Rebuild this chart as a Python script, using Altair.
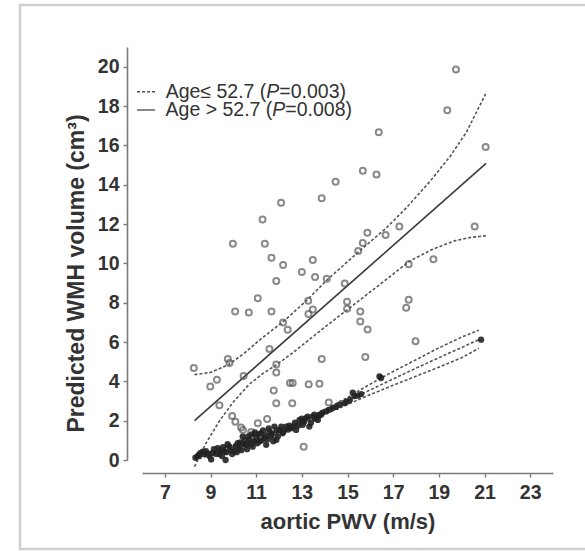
import altair as alt
import pandas as pd

# ---------------- data ----------------
# Age > 52.7 group (open circles)
old_x = [8.27, 8.99, 9.28, 9.39, 9.76, 9.83, 9.98, 10.08, 9.95, 10.09, 10.34, 10.45,
         10.68, 11.07, 11.07, 11.28, 11.38, 11.48, 11.58, 11.67, 11.67, 11.77, 11.88,
         11.88, 11.88, 11.88, 12.09, 12.18, 12.18, 12.38, 12.48, 12.60, 12.58, 13.00,
         13.08, 13.28, 13.29, 13.48, 13.48, 13.58, 13.30, 13.77, 13.87, 13.87, 14.09,
         14.18, 14.48, 14.88, 14.98, 14.98, 15.47, 15.56, 15.56, 15.67, 15.67, 15.78,
         15.87, 15.88, 16.27, 16.37, 16.67, 17.27, 17.57, 17.68, 17.68, 17.98, 18.76,
         19.37, 19.75, 20.57, 21.05, 10.42, 10.78]
old_y = [4.68, 3.74, 4.08, 2.79, 5.14, 4.93, 11.00, 7.55, 2.24, 1.95, 1.65, 4.27,
         7.50, 8.23, 1.87, 12.23, 11.00, 2.09, 5.65, 10.29, 7.55, 3.54, 9.10,
         4.85, 4.45, 2.89, 13.08, 9.91, 6.99, 6.62, 3.91, 3.91, 2.89, 9.56,
         0.68, 8.10, 7.43, 7.65, 10.17, 9.30, 3.85, 3.88, 5.14, 13.31, 9.22,
         2.93, 14.15, 8.98, 8.05, 7.69, 10.63, 7.55, 7.04, 14.71, 11.03, 5.24,
         11.55, 6.63, 14.52, 16.67, 11.44, 11.87, 7.74, 8.15, 9.95, 6.04, 10.21,
         17.79, 19.86, 11.87, 15.91, 1.53, 1.43]

# Age <= 52.7 group (filled circles)
young_x = [8.34, 8.49, 8.66, 8.88, 9.03, 9.32, 9.39, 9.66, 9.61, 9.83, 10.05, 10.19,
           10.27, 10.41, 10.56, 10.71, 10.85, 11.00, 11.14, 11.22, 11.36, 11.44, 11.58,
           11.66, 11.80, 11.88, 12.02, 12.16, 12.31, 12.53, 12.75, 12.90, 13.04, 13.19,
           13.33, 13.48, 13.70, 13.84, 14.06, 14.35, 14.65, 14.86, 15.23, 15.45, 16.47,
           16.40, 20.85,
           8.45, 8.55, 8.70, 8.80, 8.95, 9.10, 9.15, 9.25, 9.45, 9.50, 9.55, 9.70,
           9.75, 9.90, 9.95, 10.10, 10.15, 10.30, 10.35, 10.45, 10.50, 10.60, 10.65,
           10.75, 10.80, 10.90, 10.95, 11.05, 11.10, 11.25, 11.30, 11.40, 11.50, 11.55,
           11.70, 11.75, 11.90, 11.95, 12.10, 12.20, 12.40, 12.45, 12.60, 12.70, 12.85,
           13.00, 13.10, 13.25, 13.40, 13.55, 13.60, 13.75, 13.90, 14.20, 14.50, 14.95,
           15.10, 15.30, 15.60]
young_y = [0.12, 0.26, 0.43, 0.31, 0.03, 0.60, 0.31, 0.00, 0.43, 0.68, 0.43, 0.85,
           0.60, 1.19, 0.77, 1.02, 0.68, 1.19, 0.94, 1.36, 1.11, 0.77, 1.44,
           1.19, 1.70, 1.02, 1.53, 1.36, 1.70, 1.62, 1.53, 2.04, 1.79, 2.13,
           1.70, 2.21, 2.04, 2.30, 2.47, 2.64, 2.81, 2.89, 3.43, 3.27, 4.17,
           4.25, 6.12,
           0.20, 0.35, 0.30, 0.45, 0.20, 0.35, 0.55, 0.30, 0.50, 0.20, 0.65, 0.40,
           0.80, 0.50, 0.30, 0.70, 0.40, 0.90, 0.50, 0.80, 1.00, 0.55, 1.20,
           0.80, 1.30, 0.95, 1.40, 0.85, 1.30, 1.00, 1.50, 1.25, 1.05, 1.60,
           1.35, 0.95, 1.50, 1.20, 1.70, 1.45, 1.55, 1.75, 1.70, 1.90, 1.75,
           2.10, 1.95, 2.20, 1.90, 2.30, 2.10, 2.25, 2.40, 2.55, 2.70, 2.95,
           3.05, 3.25, 3.35]

# Fitted line and confidence limits, Age > 52.7
old_fit_x = [8.3, 21.07]
old_fit_y = [2.0, 15.08]
old_hi_x = [8.3, 9.0, 9.8, 10.5, 11.2, 12.2, 13.2, 14.1, 15.5, 16.7, 17.6, 18.6, 19.5, 20.2, 21.05]
old_hi_y = [4.34, 4.45, 4.85, 5.45, 6.15, 7.05, 8.1, 9.15, 10.6, 11.8, 12.85, 14.15, 15.45, 16.65, 18.62]
old_lo_x = [8.3, 8.8, 9.4, 10.0, 10.7, 11.3, 11.9, 12.6, 13.3, 14.0, 15.0, 16.0, 17.0, 17.7, 18.7, 19.7, 20.4, 21.07]
old_lo_y = [-0.34, 0.85, 2.0, 2.95, 3.85, 4.4, 4.85, 5.45, 6.1, 6.75, 7.65, 8.55, 9.45, 10.1, 10.7, 11.15, 11.32, 11.4]

# Fitted line and confidence limits, Age <= 52.7
young_line_x = [8.3, 9, 10, 11, 12, 13, 14, 15, 16, 17, 18, 19, 20, 20.75]
young_fit_y = [0.10, 0.35, 0.65, 1.00, 1.40, 1.90, 2.45, 3.00, 3.57, 4.12, 4.67, 5.20, 5.72, 6.12]
young_hi_y = [0.22, 0.44, 0.74, 1.08, 1.48, 1.99, 2.57, 3.18, 3.86, 4.50, 5.10, 5.70, 6.25, 6.60]
young_lo_y = [-0.02, 0.26, 0.56, 0.92, 1.32, 1.81, 2.33, 2.82, 3.33, 3.80, 4.26, 4.72, 5.20, 5.68]

x_ticks = [7, 9, 11, 13, 15, 17, 19, 21, 23]
y_ticks = [0, 2, 4, 6, 8, 10, 12, 14, 16, 18, 20]

legend_pre = ["Age\u2264 52.7 (", "Age > 52.7 ("]
legend_p = ["P", "P"]
legend_post = ["=0.003)", "=0.008)"]

# ---------------- build tables ----------------
FONT = "Liberation Sans"
W, H = 411, 413
X0, X1, Y0, Y1 = 6, 24, 0, 21
PX_PER_X = W / (X1 - X0)
PX_PER_Y = H / (Y1 - Y0)

old_df = pd.DataFrame({"x": old_x, "y": old_y})
young_df = pd.DataFrame({"x": young_x, "y": young_y})

dash_rows = []
for name, xs_, ys_ in [("old_hi", old_hi_x, old_hi_y), ("old_lo", old_lo_x, old_lo_y),
                       ("y_fit", young_line_x, young_fit_y), ("y_hi", young_line_x, young_hi_y),
                       ("y_lo", young_line_x, young_lo_y)]:
    for i, (a, b) in enumerate(zip(xs_, ys_)):
        dash_rows.append({"line": name, "x": a, "y": b, "o": i})
dash_df = pd.DataFrame(dash_rows)
solid_df = pd.DataFrame({"x": old_fit_x, "y": old_fit_y, "o": [0, 1]})

# legend layout (right-anchored so the glyph widths of the prefix do not matter)
FS = 19.5
post_w = (0.584 + 0.556 + 0.278 + 0.556 * 3 + 0.333) * FS
p_w = 0.667 * FS
right_px = [204, 210]          # right end of each legend line, px from plot left
row_px = [44.7, 63.0]          # vertical centre of each legend line, px from plot top
rows = []
for i in range(2):
    x_post = X0 + (right_px[i] - post_w) / PX_PER_X
    x_p = x_post - p_w / PX_PER_X
    rows.append({"pre": legend_pre[i], "p": legend_p[i], "post": legend_post[i],
                 "y": Y1 - row_px[i] / PX_PER_Y,
                 "x_pre": x_p, "x_p": x_p, "x_post": x_post,
                 "l0": X0 - 5 / PX_PER_X, "l1": X0 + 13 / PX_PER_X})
leg_df = pd.DataFrame(rows)

xs = alt.Scale(domain=[X0, X1], nice=False, zero=False)
ys = alt.Scale(domain=[Y0, Y1], nice=False, zero=False)

axis_common = dict(domainColor="#7a7a7a", tickColor="#7a7a7a", domainWidth=1.6, tickWidth=1.4,
                   tickSize=4, grid=False, labelFont=FONT, labelFontSize=19.5,
                   labelFontWeight="bold", labelColor="#333333", titleFont=FONT,
                   titleFontWeight="bold", titleColor="#333333", zindex=1)

x_axis = alt.Axis(values=x_ticks, offset=13, labelPadding=6, titlePadding=10,
                  titleFontSize=22, title="aortic PWV (m/s)", **axis_common)
y_axis = alt.Axis(values=y_ticks, offset=15, labelPadding=4, titlePadding=9,
                  titleFontSize=23, titleY=226,
                  title="Predicted WMH volume (cm\u00b3)", **axis_common)

frame = alt.Chart(pd.DataFrame({"k": [0]})).mark_rect(
    fillOpacity=0, stroke="#cfcfcf", strokeWidth=2.5
).encode(x=alt.value(-122), x2=alt.value(470), y=alt.value(-42), y2=alt.value(502))

dashed = alt.Chart(dash_df).mark_line(
    strokeDash=[3, 2], strokeWidth=1.6, color="#555555"
).encode(
    x=alt.X("x:Q", scale=xs, axis=x_axis),
    y=alt.Y("y:Q", scale=ys, axis=y_axis),
    detail="line:N", order="o:Q"
)

solid = alt.Chart(solid_df).mark_line(strokeWidth=1.6, color="#3a3a3a").encode(
    x=alt.X("x:Q", scale=xs), y=alt.Y("y:Q", scale=ys), order="o:Q")

open_pts = alt.Chart(old_df).mark_point(
    shape="circle", filled=False, size=36, strokeWidth=2, color="#5a5a5a"
).encode(x=alt.X("x:Q", scale=xs), y=alt.Y("y:Q", scale=ys))

filled_pts = alt.Chart(young_df).mark_circle(size=40, color="#222222", opacity=0.9).encode(
    x=alt.X("x:Q", scale=xs), y=alt.Y("y:Q", scale=ys))

leg0 = leg_df.iloc[[0]]
leg1 = leg_df.iloc[[1]]
leg_dash = alt.Chart(leg0).mark_rule(strokeDash=[3, 2], strokeWidth=1.4, color="#555555").encode(
    x=alt.X("l0:Q", scale=xs), x2="l1:Q", y=alt.Y("y:Q", scale=ys))
leg_solid = alt.Chart(leg1).mark_rule(strokeWidth=1.4, color="#555555").encode(
    x=alt.X("l0:Q", scale=xs), x2="l1:Q", y=alt.Y("y:Q", scale=ys))

txt_kw = dict(font=FONT, fontSize=FS, color="#333333", baseline="middle")
t_pre = alt.Chart(leg_df).mark_text(align="right", **txt_kw).encode(
    x=alt.X("x_pre:Q", scale=xs), y=alt.Y("y:Q", scale=ys), text="pre:N")
t_p = alt.Chart(leg_df).mark_text(align="left", fontStyle="italic", **txt_kw).encode(
    x=alt.X("x_p:Q", scale=xs), y=alt.Y("y:Q", scale=ys), text="p:N")
t_post = alt.Chart(leg_df).mark_text(align="left", **txt_kw).encode(
    x=alt.X("x_post:Q", scale=xs), y=alt.Y("y:Q", scale=ys), text="post:N")

chart = alt.layer(
    frame, dashed, solid, open_pts, filled_pts, leg_dash, leg_solid, t_pre, t_p, t_post
).properties(
    width=W, height=H,
    autosize=alt.AutoSizeParams(type="none"),
    padding={"left": 142, "top": 47, "right": 32, "bottom": 91},
    background="white"
).configure_view(stroke=None)

chart.save("out.html", embed_options={"renderer": "svg", "actions": False})
